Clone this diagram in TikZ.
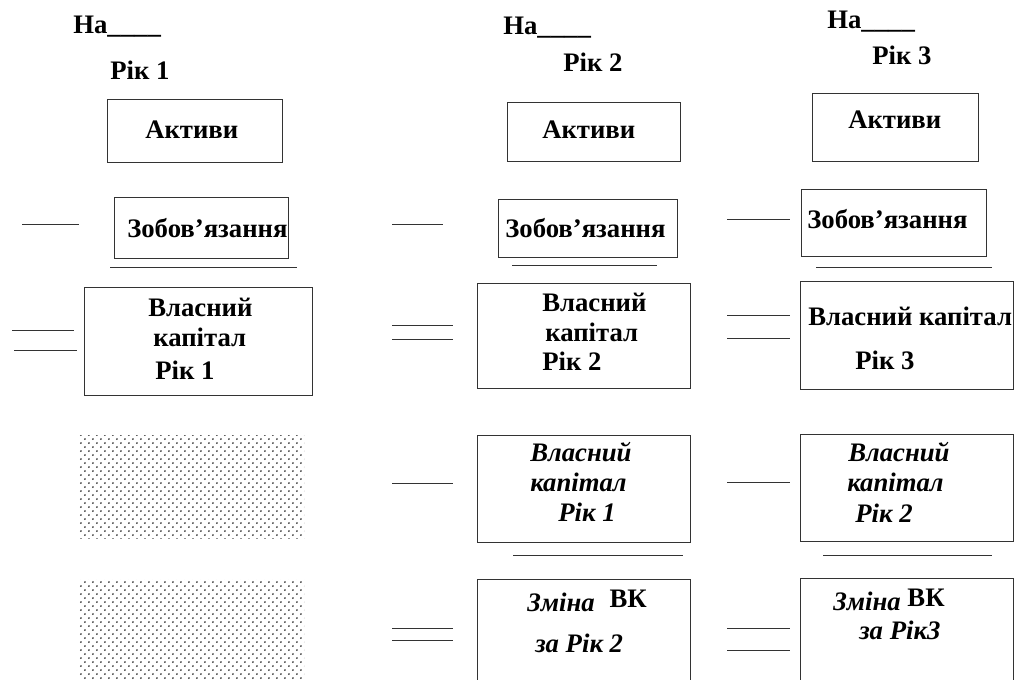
\documentclass[tikz,border=0pt]{standalone}
\usepackage{fontspec}
\setmainfont{Liberation Serif}[BoldFont={Liberation Serif Bold},
  ItalicFont={Liberation Serif Italic}, BoldItalicFont={Liberation Serif Bold Italic}]
\usetikzlibrary{fit}
\usetikzlibrary{patterns.meta}

\tikzdeclarepattern{name=dotfill, type=uncolored,
  bounding box={(0pt,0pt) and (6pt,6pt)}, tile size={(6pt,6pt)},
  code={\fill (1.5pt,1.5pt) circle (0.75pt); \fill (4.5pt,4.5pt) circle (0.75pt);}}

\begin{document}
\begin{tikzpicture}[x=0.025cm, y=-0.025cm,
    box/.style={draw=black!80, line width=0.7pt, inner sep=0pt},
    txt/.style={anchor=west, inner sep=0pt, font=\rmfamily\fontsize{19}{22}\selectfont\bfseries},
    itxt/.style={txt, font=\rmfamily\fontsize{19}{22}\selectfont\bfseries\itshape},
    sign/.style={draw=black!80, line width=0.7pt}]
  \useasboundingbox (0,0) rectangle (1016,679);

  % column 1
  \node[txt] (na1) at (73,27) {На\_\_\_\_};
  \node[txt] (rik1) at (110,70) {Рік 1};
  \node[box, fit={(107,99) (282,162)}] (act1) {};
  \node[txt] at (145,130) {Активи};
  \node[box, fit={(114,197) (288,258)}] (zob1) {};
  \node[txt] at (127,228) {Зобов’язання};
  \draw[sign] (22,224) -- (79,224);
  \draw[sign] (110,267) -- (297,267);
  \node[box, fit={(84,287) (312,395)}] (vk1) {};
  \node[txt] at (148,307) {Власний};
  \node[txt] at (153,337) {капітал};
  \node[txt] at (155,370) {Рік 1};
  \draw[sign] (12,330) -- (74,330);
  \draw[sign] (14,350) -- (77,350);
  \fill[pattern=dotfill, pattern color=black!85] (79,435) rectangle (304,538);
  \fill[pattern=dotfill, pattern color=black!85] (79,579) rectangle (304,679);

  % column 2
  \node[txt] (na2) at (503,28) {На\_\_\_\_};
  \node[txt] (rik2) at (563,62) {Рік 2};
  \node[box, fit={(507,102) (680,161)}] (act2) {};
  \node[txt] at (542,130) {Активи};
  \node[box, fit={(498,199) (677,257)}] (zob2) {};
  \node[txt] at (505,228) {Зобов’язання};
  \draw[sign] (392,224) -- (443,224);
  \draw[sign] (512,265) -- (657,265);
  \node[box, fit={(477,283) (690,388)}] (vk2) {};
  \node[txt] at (542,302) {Власний};
  \node[txt] at (545,332) {капітал};
  \node[txt] at (542,361) {Рік 2};
  \draw[sign] (392,325) -- (453,325);
  \draw[sign] (392,339) -- (453,339);
  \node[box, fit={(477,435) (690,542)}] (vkp2) {};
  \node[itxt] at (530,452) {Власний};
  \node[itxt] at (530,482) {капітал};
  \node[itxt] at (558,512) {Рік 1};
  \draw[sign] (392,483) -- (453,483);
  \draw[sign] (513,555) -- (683,555);
  \node[box, fit={(477,579) (690,700)}] (zm2) {};
  \node[txt] at (527,601) {\textit{Зміна}\;\;\raisebox{3pt}{ВК}};
  \node[itxt] at (535,643) {за Рік 2};
  \draw[sign] (392,628) -- (453,628);
  \draw[sign] (392,640) -- (453,640);

  % column 3
  \node[txt] (na3) at (827,22) {На\_\_\_\_};
  \node[txt] (rik3) at (872,55) {Рік 3};
  \node[box, fit={(812,93) (978,161)}] (act3) {};
  \node[txt] at (848,120) {Активи};
  \node[box, fit={(801,189) (986,256)}] (zob3) {};
  \node[txt] at (807,219) {Зобов’язання};
  \draw[sign] (727,219) -- (790,219);
  \draw[sign] (816,267) -- (992,267);
  \node[box, fit={(800,281) (1013,389)}] (vk3) {};
  \node[txt] at (808,316) {Власний капітал};
  \node[txt] at (855,360) {Рік 3};
  \draw[sign] (727,315) -- (790,315);
  \draw[sign] (727,338) -- (790,338);
  \node[box, fit={(800,434) (1013,541)}] (vkp3) {};
  \node[itxt] at (848,452) {Власний};
  \node[itxt] at (847,482) {капітал};
  \node[itxt] at (855,513) {Рік 2};
  \draw[sign] (727,482) -- (790,482);
  \draw[sign] (823,555) -- (992,555);
  \node[box, fit={(800,578) (1013,700)}] (zm3) {};
  \node[txt] at (833,600) {\textit{Зміна} \raisebox{3pt}{ВК}};
  \node[itxt] at (859,630) {за Рік3};
  \draw[sign] (727,628) -- (790,628);
  \draw[sign] (727,650) -- (790,650);
\end{tikzpicture}
\end{document}
